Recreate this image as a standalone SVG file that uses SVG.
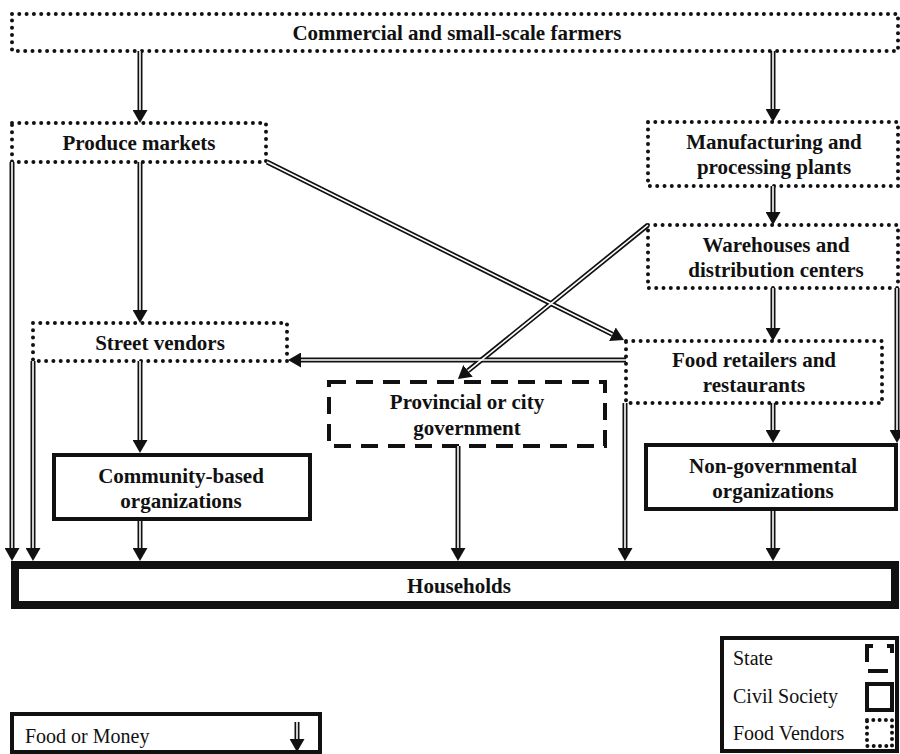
<svg xmlns="http://www.w3.org/2000/svg" width="900" height="754" viewBox="0 0 900 754">
<style>
.t{font-family:"Liberation Serif","Times New Roman",serif;font-weight:bold;font-size:21px;fill:#111;text-anchor:middle}
.lt{font-family:"Liberation Serif","Times New Roman",serif;font-size:20px;fill:#111}
.dot{fill:none;stroke:#111;stroke-width:4;stroke-dasharray:0 7.3;stroke-linecap:round}
.dash{fill:none;stroke:#111;stroke-width:4;stroke-dasharray:17 10}
.solid{fill:none;stroke:#111;stroke-width:4}
.c{fill:none;stroke:#111;stroke-width:5;marker-end:url(#ah)}
.ci{fill:none;stroke:#fff;stroke-width:1.6}
</style>
<defs>
<marker id="ah" markerUnits="userSpaceOnUse" viewBox="0 0 13 15" markerWidth="13" markerHeight="15" refX="0" refY="7.5" orient="auto">
<path d="M0,0 L13,7.5 L0,15 z" fill="#111"/>
</marker>
</defs>
<rect width="900" height="754" fill="#fff"/>

<g id="farmers">
<rect class="dot" x="12" y="14" width="886" height="37"/>
<text class="t" x="457" y="40">Commercial and small-scale farmers</text>
</g>
<g id="produce">
<rect class="dot" x="12" y="123" width="254" height="39"/>
<text class="t" x="139" y="150">Produce markets</text>
</g>
<g id="manufacturing">
<rect class="dot" x="648" y="122" width="250" height="64"/>
<text class="t" x="774" y="149">Manufacturing and</text>
<text class="t" x="774" y="174">processing plants</text>
</g>
<g id="warehouses">
<rect class="dot" x="648" y="225" width="250" height="63"/>
<text class="t" x="776" y="252">Warehouses and</text>
<text class="t" x="776" y="277">distribution centers</text>
</g>
<g id="retailers">
<rect class="dot" x="626" y="341" width="256" height="62"/>
<text class="t" x="754" y="367">Food retailers and</text>
<text class="t" x="754" y="392">restaurants</text>
</g>
<g id="street">
<rect class="dot" x="33" y="323" width="254" height="38"/>
<text class="t" x="160" y="350">Street vendors</text>
</g>
<g id="government">
<rect class="dash" x="329" y="382" width="276" height="64"/>
<text class="t" x="467" y="409">Provincial or city</text>
<text class="t" x="467" y="435">government</text>
</g>
<g id="community">
<rect class="solid" x="54" y="455" width="256" height="64"/>
<text class="t" x="181" y="483">Community-based</text>
<text class="t" x="181" y="508">organizations</text>
</g>
<g id="ngo">
<rect class="solid" x="646" y="445" width="250" height="64"/>
<text class="t" x="773" y="473">Non-governmental</text>
<text class="t" x="773" y="498">organizations</text>
</g>
<g id="households">
<rect x="15" y="565" width="880" height="40" fill="none" stroke="#111" stroke-width="8"/>
<text class="t" x="459" y="593">Households</text>
</g>

<g id="connectors">
<path class="c" d="M140,51 V110"/>
<path class="c" d="M773,51 V109"/>
<path class="c" d="M12,162 V548"/>
<path class="c" d="M33,361 V548"/>
<path class="c" d="M140,162 V310"/>
<path class="c" d="M140,361 V440"/>
<path class="c" d="M140,521 V548"/>
<path class="c" d="M267,162 L612.4,334.2"/>
<path class="c" d="M648,225 L468,370.8"/>
<path class="c" d="M626,360 H301"/>
<path class="c" d="M458,446 V548"/>
<path class="c" d="M625,403 V548"/>
<path class="c" d="M773,403 V430"/>
<path class="c" d="M773,511 V548"/>
<path class="c" d="M897,288 V430"/>
<path class="c" d="M773,186 V212"/>
<path class="c" d="M773,288 V328"/>
<path class="ci" d="M140,51 V110"/>
<path class="ci" d="M773,51 V109"/>
<path class="ci" d="M12,162 V548"/>
<path class="ci" d="M33,361 V548"/>
<path class="ci" d="M140,162 V310"/>
<path class="ci" d="M140,361 V440"/>
<path class="ci" d="M140,521 V548"/>
<path class="ci" d="M267,162 L612.4,334.2"/>
<path class="ci" d="M648,225 L468,370.8"/>
<path class="ci" d="M626,360 H301"/>
<path class="ci" d="M458,446 V548"/>
<path class="ci" d="M625,403 V548"/>
<path class="ci" d="M773,403 V430"/>
<path class="ci" d="M773,511 V548"/>
<path class="ci" d="M897,288 V430"/>
<path class="ci" d="M773,186 V212"/>
<path class="ci" d="M773,288 V328"/>
</g>

<g id="legend-flow">
<rect x="12" y="714" width="308" height="38" fill="none" stroke="#111" stroke-width="4"/>
<text class="lt" x="25" y="743">Food or Money</text>
<path class="c" d="M297,722 V739"/>
<path class="ci" d="M297,722 V739"/>
</g>
<g id="legend-types">
<rect x="722" y="638" width="175" height="113" fill="none" stroke="#111" stroke-width="4"/>
<text class="lt" x="733" y="665">State</text>
<text class="lt" x="733" y="703">Civil Society</text>
<text class="lt" x="733" y="740">Food Vendors</text>
<path d="M867,662 V646 H873 M887,646 H892 V653 M868,671 H888" fill="none" stroke="#111" stroke-width="4"/>
<rect class="solid" x="867" y="684" width="25" height="26"/>
<rect class="dot" x="867" y="720" width="25" height="26" style="stroke-dasharray:0 6.3"/>
</g>
</svg>
